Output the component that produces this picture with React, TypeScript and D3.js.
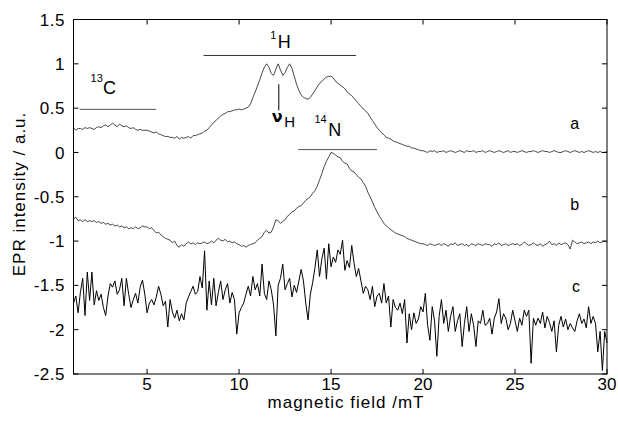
import React from "react";
import * as d3 from "d3";

const fieldStart = 1;
const fieldStep = 0.125;

const xTicks = [5, 10, 15, 20, 25, 30];
const yTicks = [1.5, 1, 0.5, 0, -0.5, -1, -1.5, -2, -2.5];

const traceA = [
  0.28,0.25,0.27,0.27,0.26,0.28,0.27,0.28,
  0.27,0.26,0.28,0.29,0.28,0.30,0.31,0.29,
  0.31,0.33,0.31,0.29,0.32,0.30,0.29,0.30,
  0.28,0.27,0.28,0.26,0.25,0.26,0.25,0.25,
  0.25,0.24,0.23,0.22,0.23,0.21,0.20,0.19,
  0.18,0.18,0.17,0.17,0.16,0.18,0.15,0.17,
  0.16,0.17,0.18,0.16,0.19,0.19,0.20,0.21,
  0.22,0.24,0.25,0.28,0.31,0.34,0.36,0.39,
  0.41,0.43,0.44,0.46,0.46,0.47,0.48,0.48,
  0.49,0.48,0.49,0.50,0.51,0.55,0.62,0.68,
  0.75,0.82,0.90,0.96,1.00,0.96,0.89,0.87,
  0.94,1.00,0.93,0.87,0.90,0.96,1.00,0.95,
  0.86,0.77,0.70,0.65,0.62,0.61,0.60,0.62,
  0.66,0.70,0.74,0.78,0.80,0.83,0.85,0.86,
  0.86,0.84,0.80,0.78,0.76,0.74,0.72,0.68,
  0.66,0.64,0.61,0.58,0.55,0.52,0.49,0.47,
  0.44,0.40,0.36,0.32,0.28,0.25,0.22,0.20,
  0.17,0.16,0.15,0.13,0.12,0.11,0.10,0.09,
  0.08,0.07,0.07,0.05,0.05,0.04,0.03,0.02,
  0.02,0.01,0.00,0.02,0.01,0.02,0.00,0.01,
  0.01,0.02,0.00,0.01,0.02,0.01,0.00,0.01,
  0.02,0.01,0.00,0.02,0.01,0.01,0.02,0.00,
  0.01,0.01,0.02,0.00,0.01,0.02,0.01,0.00,
  0.01,0.02,0.01,0.00,0.01,0.02,0.00,0.01,
  0.01,0.00,0.01,0.02,0.01,0.00,0.01,0.01,
  0.02,0.01,0.00,0.01,0.02,0.01,0.01,0.00,
  0.01,0.02,0.01,0.00,0.00,0.01,0.02,0.01,
  0.00,0.01,0.02,0.01,0.00,0.01,0.00,0.01,
  0.02,0.01,0.00,0.01,0.00,0.01,0.00,0.00,
  0.01,
];

const traceB = [
  -0.75,-0.73,-0.77,-0.76,-0.78,-0.76,-0.78,-0.77,
  -0.78,-0.77,-0.79,-0.78,-0.80,-0.79,-0.81,-0.80,
  -0.82,-0.81,-0.83,-0.82,-0.84,-0.83,-0.85,-0.84,
  -0.86,-0.85,-0.86,-0.84,-0.86,-0.85,-0.83,-0.84,
  -0.84,-0.86,-0.85,-0.88,-0.91,-0.90,-0.93,-0.95,
  -0.97,-0.98,-0.99,-1.02,-1.00,-1.05,-1.07,-1.04,
  -1.06,-1.03,-1.01,-1.03,-1.02,-1.04,-1.02,-1.03,
  -1.02,-1.01,-1.03,-1.02,-1.00,-1.02,-0.99,-0.97,
  -0.99,-1.00,-0.98,-1.01,-1.00,-1.02,-1.01,-1.03,
  -1.04,-1.06,-1.05,-1.07,-1.05,-1.04,-1.03,-1.02,
  -0.99,-0.97,-0.95,-0.90,-0.88,-0.91,-0.90,-0.84,
  -0.76,-0.77,-0.80,-0.78,-0.76,-0.72,-0.70,-0.67,
  -0.66,-0.63,-0.61,-0.60,-0.57,-0.54,-0.52,-0.50,
  -0.46,-0.43,-0.38,-0.31,-0.24,-0.16,-0.10,-0.05,
  0.00,-0.01,-0.03,-0.05,-0.06,-0.10,-0.12,-0.13,
  -0.18,-0.21,-0.22,-0.25,-0.28,-0.30,-0.34,-0.38,
  -0.45,-0.50,-0.56,-0.62,-0.67,-0.72,-0.76,-0.80,
  -0.83,-0.85,-0.87,-0.89,-0.91,-0.92,-0.93,-0.94,
  -0.95,-0.97,-0.98,-0.99,-1.00,-1.01,-1.02,-1.03,
  -1.03,-1.04,-1.05,-1.03,-1.04,-1.05,-1.04,-1.03,
  -1.05,-1.03,-1.04,-1.06,-1.03,-1.04,-1.02,-1.05,
  -1.04,-1.03,-1.05,-1.04,-1.06,-1.03,-1.04,-1.05,
  -1.03,-1.04,-1.05,-1.03,-1.04,-1.04,-1.06,-1.03,
  -1.04,-1.02,-1.05,-1.04,-1.03,-1.05,-1.04,-1.03,
  -1.04,-1.03,-1.05,-1.04,-1.01,-1.03,-1.05,-1.04,
  -1.02,-1.04,-1.05,-1.03,-1.06,-1.04,-1.03,-1.00,
  -1.04,-1.03,-1.05,-1.02,-1.04,-1.03,-1.02,-1.04,
  -1.09,-0.99,-1.01,-1.03,-1.02,-1.01,-1.03,-1.02,
  -1.01,-1.03,-1.01,-1.02,-1.00,-1.02,-1.01,-1.00,
  -1.01,
];

const traceC = [
  -1.70,-1.62,-1.81,-1.58,-1.42,-1.84,-1.35,-1.67,
  -1.35,-1.72,-1.56,-1.67,-1.60,-1.75,-1.84,-1.62,
  -1.48,-1.52,-1.45,-1.60,-1.55,-1.42,-1.73,-1.42,
  -1.60,-1.75,-1.66,-1.59,-1.70,-1.52,-1.44,-1.60,
  -1.81,-1.70,-1.66,-1.72,-1.63,-1.51,-1.60,-1.73,
  -1.68,-1.97,-1.66,-1.80,-1.87,-1.78,-1.90,-1.82,
  -1.89,-1.70,-1.63,-1.57,-1.51,-1.60,-1.57,-1.40,
  -1.53,-1.11,-1.78,-1.45,-1.72,-1.42,-1.73,-1.58,
  -1.45,-1.66,-1.55,-1.48,-1.70,-1.58,-1.66,-2.05,
  -1.81,-1.75,-1.70,-1.60,-1.51,-1.62,-1.40,-1.55,
  -1.48,-1.62,-1.26,-1.59,-1.66,-1.45,-1.55,-1.72,
  -2.07,-1.50,-1.42,-1.26,-1.55,-1.48,-1.42,-1.63,
  -1.50,-1.58,-1.45,-1.32,-1.45,-1.70,-1.89,-1.60,
  -1.47,-1.30,-1.10,-1.40,-1.20,-1.08,-1.43,-1.03,
  -1.29,-1.18,-1.24,-1.10,-1.15,-0.99,-1.33,-1.22,
  -1.30,-1.05,-1.25,-1.40,-1.31,-1.45,-1.59,-1.51,
  -1.55,-1.66,-1.51,-1.74,-1.62,-1.59,-1.70,-1.48,
  -1.70,-1.62,-1.97,-1.66,-1.75,-1.78,-1.70,-1.82,
  -1.66,-2.15,-1.82,-2.00,-1.81,-1.93,-1.88,-1.74,
  -1.80,-1.59,-1.95,-2.12,-1.74,-1.90,-2.30,-1.85,
  -1.66,-1.93,-1.78,-2.02,-1.85,-1.74,-2.02,-1.90,
  -1.82,-2.19,-1.93,-1.74,-2.02,-1.82,-1.95,-2.19,
  -1.90,-1.93,-1.78,-1.95,-1.93,-1.87,-2.05,-1.87,
  -1.80,-1.65,-1.93,-1.82,-1.87,-2.00,-1.93,-1.78,
  -1.90,-2.02,-1.87,-1.95,-1.78,-1.85,-1.78,-2.38,
  -1.87,-1.95,-1.87,-1.93,-1.80,-1.98,-1.85,-1.92,
  -2.02,-1.90,-2.25,-1.95,-1.85,-1.97,-1.88,-2.00,
  -1.93,-1.98,-2.02,-1.90,-1.82,-1.93,-1.88,-1.98,
  -1.74,-1.93,-1.85,-1.93,-2.25,-2.02,-2.46,-2.02,
  -2.15,
];

const FONT = "'Liberation Sans', Arial, Helvetica, sans-serif";

export default function App() {
  const L = 73.5, R = 607, T = 19.5, B = 374;
  const x = d3.scaleLinear().domain([1, 30]).range([L, R]);
  const y = d3.scaleLinear().domain([-2.5, 1.5]).range([B, T]);
  const line = d3
    .line<number>()
    .x((_, i) => x(fieldStart + i * fieldStep))
    .y((v) => y(v));
  const tl = 5;

  return (
    <svg
      width={618}
      height={421}
      style={{ position: "absolute", left: 0, top: 0, background: "#fff" }}
      fontFamily={FONT}
    >
      <rect x={0} y={0} width={618} height={421} fill="#fff" />
      <path d={line(traceA) || ""} fill="none" stroke="#333" strokeWidth={0.9} />
      <path d={line(traceB) || ""} fill="none" stroke="#333" strokeWidth={0.9} />
      <path d={line(traceC) || ""} fill="none" stroke="#000" strokeWidth={1} />

      {/* frame */}
      <rect x={L} y={T} width={R - L} height={B - T} fill="none" stroke="#000" strokeWidth={1} />
      {xTicks.map((t) => (
        <g key={"x" + t}>
          <line x1={x(t)} x2={x(t)} y1={B} y2={B - tl} stroke="#000" />
          <line x1={x(t)} x2={x(t)} y1={T} y2={T + tl} stroke="#000" />
          <text x={x(t)} y={390} fontSize={17} textAnchor="middle">
            {String(t)}
          </text>
        </g>
      ))}
      {yTicks.map((t) => (
        <g key={"y" + t}>
          <line x1={L} x2={L + tl} y1={y(t)} y2={y(t)} stroke="#000" />
          <line x1={R} x2={R - tl} y1={y(t)} y2={y(t)} stroke="#000" />
          <text x={65} y={y(t)} dy="0.36em" fontSize={17} textAnchor="end" letterSpacing={0.5}>
            {String(t)}
          </text>
        </g>
      ))}
      <text x={346} y={408} fontSize={17} textAnchor="middle" letterSpacing={1}>
        magnetic field /mT
      </text>
      <text transform="translate(25,194) rotate(-90)" fontSize={17} textAnchor="middle" letterSpacing={1}>
        EPR intensity / a.u.
      </text>

      {/* annotations */}
      <line x1={x(1.33)} x2={x(5.49)} y1={y(0.486)} y2={y(0.486)} stroke="#555" strokeWidth={1} />
      <text x={x(1.93)} y={y(0.8)} fontSize={11}>13</text>
      <text x={x(2.6)} y={y(0.66)} fontSize={18}>C</text>

      <line x1={x(8.07)} x2={x(16.36)} y1={y(1.094)} y2={y(1.094)} stroke="#333" strokeWidth={1} />
      <text x={x(11.7)} y={y(1.28)} fontSize={11}>1</text>
      <text x={x(12.1)} y={y(1.18)} fontSize={18}>H</text>

      <line x1={x(12.16)} x2={x(12.16)} y1={y(0.77)} y2={y(0.475)} stroke="#000" strokeWidth={1} />
      <text x={x(11.78)} y={y(0.348)} fontSize={16} fontWeight="bold" fontFamily="'DejaVu Sans', sans-serif">ν</text>
      <text x={x(12.45)} y={y(0.29)} fontSize={15}>H</text>

      <line x1={x(13.21)} x2={x(17.5)} y1={y(0.032)} y2={y(0.032)} stroke="#555" strokeWidth={1} />
      <text x={x(14.1)} y={y(0.33)} fontSize={11}>14</text>
      <text x={x(14.85)} y={y(0.19)} fontSize={18}>N</text>

      <text x={x(28.0)} y={y(0.27)} fontSize={16}>a</text>
      <text x={x(28.0)} y={y(-0.65)} fontSize={16}>b</text>
      <text x={x(28.1)} y={y(-1.57)} fontSize={16}>c</text>
    </svg>
  );
}
